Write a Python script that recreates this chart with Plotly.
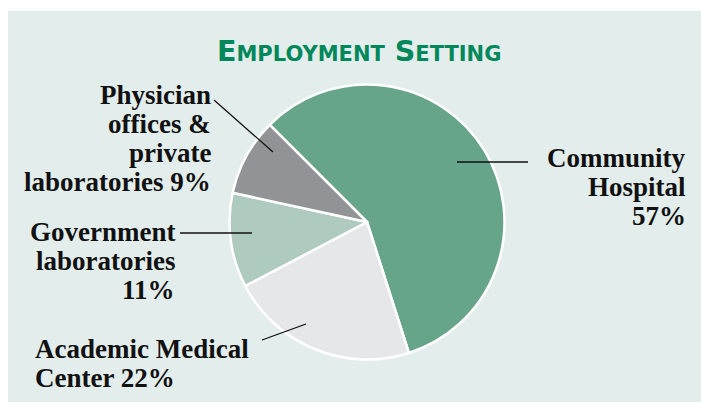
import plotly.graph_objects as go

# ---- data ----
categories = ["Community Hospital", "Academic Medical Center",
              "Government laboratories", "Physician offices & private laboratories"]
values = [57, 22, 11, 9]
colors = ["#66a58a", "#e6e7e8", "#afcbc0", "#929396"]
title_text = "Employment Setting"

# label line splits (layout of label text); last line gets the percentage
label_lines = [
    ["Community", "Hospital", "{v}%"],
    ["Academic Medical", "Center {v}%"],
    ["Government", "laboratories", "{v}%"],
    ["Physician", "offices &", "private", "laboratories {v}%"],
]

W, H = 701, 408
cx, cy, R = 367, 222, 137.5

def px(x):
    return x / W

def py(y):
    return 1 - y / H

fig = go.Figure()
fig.add_trace(go.Pie(
    labels=categories, values=values, sort=False, direction="clockwise",
    rotation=-45, textinfo="none", hoverinfo="label+percent",
    marker=dict(colors=colors, line=dict(color="white", width=2.5)),
    domain=dict(x=[px(cx - R), px(cx + R)], y=[py(cy + R), py(cy - R)]),
    showlegend=False,
))

# label placement (pixel layout): anchor x, alignment, first baseline
label_pos = [
    dict(x=688, anchor="right", y0=167),
    dict(x=33, anchor="left", y0=358),
    dict(x=177, anchor="right", y0=241),
    dict(x=213, anchor="right", y0=104),
]
line_gap = 29
fs = 27
annotations = []
for i, lines in enumerate(label_lines):
    p = label_pos[i]
    for j, t in enumerate(lines):
        base = p["y0"] + j * line_gap
        annotations.append(dict(
            text="<b>" + t.format(v=values[i]) + "</b>", x=px(p["x"]), y=py(base - 9),
            xref="paper", yref="paper", xanchor=p["anchor"], yanchor="middle",
            showarrow=False,
            font=dict(family="Liberation Serif", size=fs, color="#111111"),
        ))

# title in small caps
words = title_text.upper().split()
tt = " ".join(w[0] + "<span style='font-size:21px'>" + w[1:] + "</span>" for w in words)
annotations.append(dict(
    text="<b>" + tt + "</b>", x=px(359), y=py(61 - 9.5), xref="paper", yref="paper",
    xanchor="center", yanchor="middle", showarrow=False,
    font=dict(family="DejaVu Sans", size=28.5, color="#00885a"),
))

# leader lines (pixel layout)
leaders = [
    (457, 162, 528, 162),
    (262, 340, 306, 324),
    (180, 233, 252, 233),
    (214, 100, 273, 152),
]
shapes = [dict(type="rect", xref="paper", yref="paper", x0=px(8), x1=1.0,
               y0=py(402), y1=py(11), fillcolor="#e3edeb", line=dict(width=0),
               layer="below")]
for (x0, y0, x1, y1) in leaders:
    shapes.append(dict(type="line", xref="paper", yref="paper",
                       x0=px(x0), y0=py(y0), x1=px(x1), y1=py(y1),
                       line=dict(color="#111111", width=1.3), layer="above"))

fig.update_layout(
    width=W, height=H, margin=dict(l=0, r=0, t=0, b=0),
    paper_bgcolor="white", plot_bgcolor="white",
    annotations=annotations, shapes=shapes,
)
fig.write_html("out.html")
